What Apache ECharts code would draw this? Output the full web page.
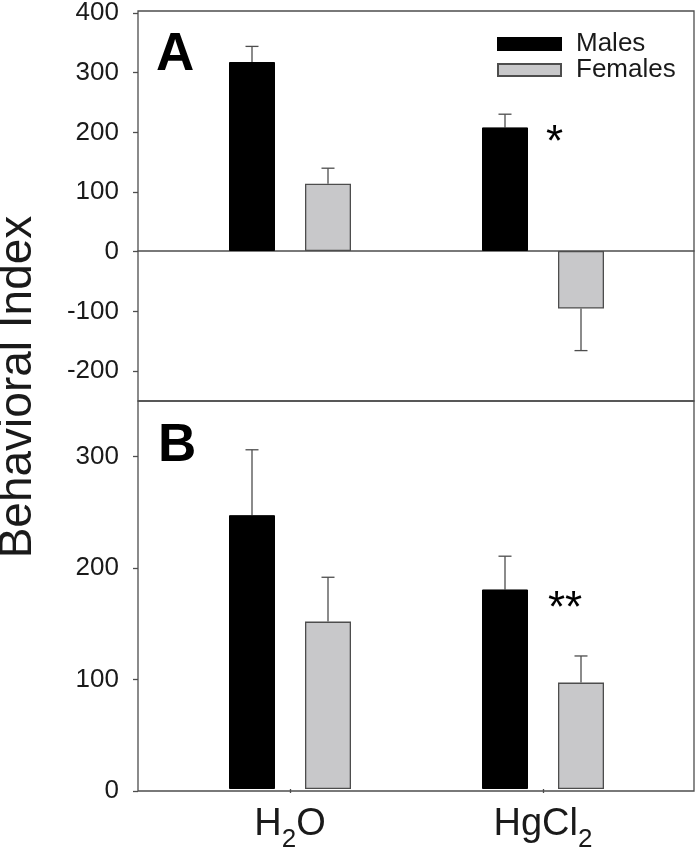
<!DOCTYPE html>
<html><head><meta charset="utf-8">
<script src="https://cdn.jsdelivr.net/npm/echarts@6/dist/echarts.min.js"></script>
<style>html,body{margin:0;padding:0;background:#fff}#c{width:696px;height:853px}</style>
</head><body><div id="c"></div>
<script>
// ---- data ----
const categories = ['H2O', 'HgCl2'];
const seriesNames = ['Males', 'Females'];
const maleA = [315, 206];
const maleAErr = [26, 22];
const femaleA = [112, -96];
const femaleAErr = [26, 70];
const maleB = [247, 180];
const maleBErr = [59, 30];
const femaleB = [151, 96];
const femaleBErr = [40, 24];
const sigA = ['', '*'];
const sigB = ['', '**'];
const yTicksA = [-200, -100, 0, 100, 200, 300, 400];
const yTicksB = [0, 100, 200, 300];
const extentA = [-250, 400];
const extentB = [0, 350];
const panelLabels = ['A', 'B'];
const yTitle = 'Behavioral Index';

// ---- layout / style ----
const FONT = "'Liberation Sans', Arial, Helvetica, sans-serif";
const LINE = '#4d4d4d';
const TXT = '#1a1a1a';
const W = 696;
const plotL = 138, plotR = 694, topA = 11, panelH = 390;
const topB = topA + panelH;
const dataL = 163.5, dataR = 669.5;
const barW = 46, barGapPx = 30, capW = 13;

function labelGrid(top, ext, ticks) {
  const pxPer = panelH / (ext[1] - ext[0]);
  const tMax = ticks[ticks.length - 1], tMin = ticks[0];
  return {left: plotL, right: W - plotR, top: top + (ext[1] - tMax) * pxPer, height: (tMax - tMin) * pxPer};
}
function frameGrid(top) {
  return {left: plotL, right: W - plotR, top: top, height: panelH, show: true,
    borderColor: LINE, borderWidth: 1.3, backgroundColor: 'rgba(0,0,0,0)'};
}
function dataGrid(top) {
  return {left: dataL, right: W - dataR, top: top, height: panelH};
}
function tickAxis(gi, ticks) {
  return {gridIndex: gi, type: 'value', min: ticks[0], max: ticks[ticks.length - 1],
    interval: ticks[1] - ticks[0],
    axisLine: {show: false},
    axisTick: {show: true, length: 5, lineStyle: {color: LINE, width: 1.3}},
    axisLabel: {margin: 19, fontSize: 26, color: TXT, fontFamily: FONT},
    splitLine: {show: false}};
}
function barSeries(name, vals, sig, xi, yi, style, sigOff) {
  return {
    type: 'bar', name: name, xAxisIndex: xi, yAxisIndex: yi,
    barWidth: barW, barGap: (barGapPx / barW * 100) + '%', z: 3,
    itemStyle: style,
    data: vals.map((v, i) => {
      if (!sig || !sig[i]) return v;
      return {value: v, label: {show: true, formatter: sig[i], position: sigOff,
        align: 'left', verticalAlign: 'top', fontSize: 44, fontFamily: FONT, color: '#000'}};
    })
  };
}
function errSeries(vals, errs, side, xi, yi) {
  return {
    type: 'custom', xAxisIndex: xi, yAxisIndex: yi, z: 2, silent: true,
    data: vals.map((v, i) => [i, v, errs[i]]),
    encode: {x: 0, y: 1},
    renderItem: (params, api) => {
      const i = api.value(0), v = api.value(1), e = api.value(2);
      const p0 = api.coord([i, v]);
      const p1 = api.coord([i, v + Math.sign(v) * e]);
      const cx = p0[0] + side * (barW + barGapPx) / 2;
      const st = {stroke: LINE, lineWidth: 1.3};
      return {type: 'group', children: [
        {type: 'line', shape: {x1: cx, y1: p0[1], x2: cx, y2: p1[1]}, style: st},
        {type: 'line', shape: {x1: cx - capW / 2, y1: p1[1], x2: cx + capW / 2, y2: p1[1]}, style: st}
      ]};
    }
  };
}
const maleStyle = {color: '#000000', borderColor: '#000000', borderWidth: 1};
const femaleStyle = {color: '#c8c8ca', borderColor: LINE, borderWidth: 1.3};

const chart = echarts.init(document.getElementById('c'), null, {renderer: 'canvas'});
chart.setOption({
  backgroundColor: '#ffffff',
  animation: false,
  textStyle: {fontFamily: FONT},
  grid: [
    frameGrid(topA), labelGrid(topA, extentA, yTicksA), dataGrid(topA),
    frameGrid(topB), labelGrid(topB, extentB, yTicksB), dataGrid(topB)
  ],
  xAxis: [
    {gridIndex: 0, type: 'value', min: 0, max: 1,
      axisLine: {show: true, onZero: true, lineStyle: {color: LINE, width: 1.5}},
      axisTick: {show: false}, axisLabel: {show: false}, splitLine: {show: false}},
    {gridIndex: 1, type: 'value', show: false},
    {gridIndex: 2, type: 'category', data: categories, show: false},
    {gridIndex: 3, type: 'value', show: false},
    {gridIndex: 4, type: 'value', show: false},
    {gridIndex: 5, type: 'category', data: categories,
      axisLine: {show: false},
      axisTick: {show: true, alignWithLabel: true, length: 4, lineStyle: {color: LINE, width: 1.3}},
      axisLabel: {margin: 8, color: TXT, fontFamily: FONT,
        formatter: v => '{n|' + v.replace(/(\d+)/g, '}{s|$1}{n|') + '}',
        rich: {
          n: {fontSize: 38, fontFamily: FONT, color: TXT},
          s: {fontSize: 26, fontFamily: FONT, color: TXT, padding: [30, 0, 0, 0]}
        }}}
  ],
  yAxis: [
    {gridIndex: 0, type: 'value', min: extentA[0], max: extentA[1], show: false},
    tickAxis(1, yTicksA),
    {gridIndex: 2, type: 'value', min: extentA[0], max: extentA[1], show: false},
    {gridIndex: 3, type: 'value', min: extentB[0], max: extentB[1], show: false},
    tickAxis(4, yTicksB),
    {gridIndex: 5, type: 'value', min: extentB[0], max: extentB[1], show: false}
  ],
  legend: {
    left: 497, top: 31, orient: 'vertical', icon: 'rect',
    itemWidth: 63, itemHeight: 12, itemGap: 0, padding: 0, selectedMode: false,
    textStyle: {fontSize: 26, lineHeight: 26, color: TXT, fontFamily: FONT, padding: [0, 0, 0, 10]},
    data: seriesNames
  },
  series: [
    barSeries(seriesNames[0], maleA, sigA, 2, 2, maleStyle, [64, -6]),
    barSeries(seriesNames[1], femaleA, null, 2, 2, femaleStyle),
    errSeries(maleA, maleAErr, -1, 2, 2),
    errSeries(femaleA, femaleAErr, 1, 2, 2),
    barSeries(seriesNames[0], maleB, sigB, 5, 5, maleStyle, [66, -1.5]),
    barSeries(seriesNames[1], femaleB, null, 5, 5, femaleStyle),
    errSeries(maleB, maleBErr, -1, 5, 5),
    errSeries(femaleB, femaleBErr, 1, 5, 5)
  ],
  graphic: [
    {type: 'text', x: 18, y: 387, rotation: Math.PI / 2, silent: true,
      style: {text: yTitle, fontSize: 46, fontFamily: FONT, fill: TXT, align: 'center', verticalAlign: 'middle'}},
    {type: 'text', x: 156, y: 55, silent: true,
      style: {text: panelLabels[0], fontSize: 53, fontWeight: 'bold', fontFamily: FONT, fill: '#000', align: 'left', verticalAlign: 'middle'}},
    {type: 'text', x: 158, y: 446.5, silent: true,
      style: {text: panelLabels[1], fontSize: 53, fontWeight: 'bold', fontFamily: FONT, fill: '#000', align: 'left', verticalAlign: 'middle'}}
  ]
});
</script>
</body></html>
